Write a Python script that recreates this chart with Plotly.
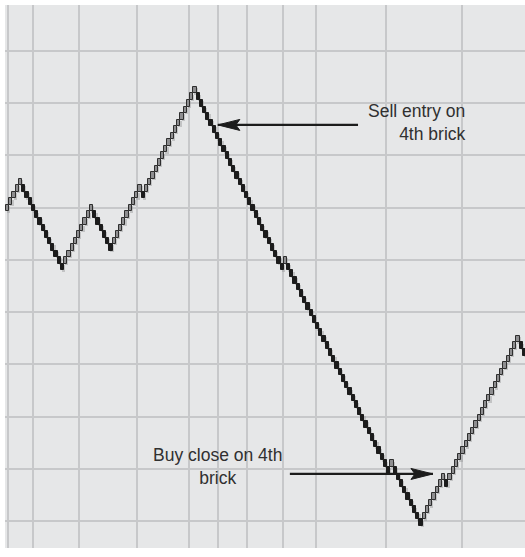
import plotly.graph_objects as go

# Renko bricks: the price level (in brick units) of each successive brick
brick_levels = [
    48, 49, 50, 51, 52,
    51, 50, 49, 48, 47, 46, 45, 44, 43, 42, 41, 40, 39,
    40, 41, 42, 43, 44, 45, 46, 47, 48,
    47, 46, 45, 44, 43, 42,
    43, 44, 45, 46, 47, 48, 49, 50, 51,
    50,
    51, 52, 53, 54, 55, 56, 57, 58, 59, 60, 61, 62, 63, 64, 65, 66,
    65, 64, 63, 62, 61, 60, 59, 58, 57, 56, 55, 54, 53, 52, 51, 50,
    49, 48, 47, 46, 45, 44, 43, 42, 41, 40, 39,
    40,
    39, 38, 37, 36, 35, 34, 33, 32, 31, 30, 29, 28, 27, 26, 25, 24,
    23, 22, 21, 20, 19, 18, 17, 16, 15, 14, 13, 12, 11, 10, 9, 8,
    9,
    8, 7, 6, 5, 4, 3, 2, 1, 0,
    1, 2, 3, 4, 5, 6, 7,
    6,
    7, 8, 9, 10, 11, 12, 13, 14, 15, 16, 17, 18, 19, 20, 21, 22,
    23, 24, 25, 26, 27, 28,
    27, 26,
]

# brick positions where the time grid (period boundaries) falls
period_breaks = [0.12, 7.96, 22.1, 40.0, 56.25, 65.2, 74.2, 85.4, 95.5, 117.2, 140.6]

# price grid: first line and spacing, in brick units
price_grid_start = 0.76
price_grid_step = 7.97

sell_label = "Sell entry on<br>4th brick"
buy_label = "Buy close on 4th<br>brick"

cols = list(range(len(brick_levels)))
is_up = [True] + [b > a for a, b in zip(brick_levels, brick_levels[1:])]

up_x = [c for c, u in zip(cols, is_up) if u]
up_base = [lv for lv, u in zip(brick_levels, is_up) if u]
dn_x = [c for c, u in zip(cols, is_up) if not u]
dn_base = [lv for lv, u in zip(brick_levels, is_up) if not u]

fig = go.Figure()

# soft shadow under every brick
fig.add_trace(go.Bar(
    x=[c + 0.35 for c in cols], y=[1] * len(cols),
    base=[lv - 0.18 for lv in brick_levels], width=1.0,
    marker=dict(color="rgba(150,150,152,0.45)", line=dict(width=0)),
    hoverinfo="skip", showlegend=False,
))
fig.add_trace(go.Bar(
    x=up_x, y=[1] * len(up_x), base=up_base, width=1.0,
    marker=dict(color="#8e8e90", line=dict(color="#2e2e2e", width=1)),
    showlegend=False,
))
fig.add_trace(go.Bar(
    x=dn_x, y=[1] * len(dn_x), base=dn_base, width=1.0,
    marker=dict(color="#1c1c1c", line=dict(color="#1c1c1c", width=1)),
    showlegend=False,
))

text_font = dict(family="Liberation Sans, Arial, sans-serif", size=17.5, color="#303030")

# arrows: shaft as a line, head as a pixel-sized barbed path anchored at the tip
def arrow(x_tip, x_tail, y, pointing_left):
    fig.add_shape(type="line", xref="x", yref="y", x0=x_tail, x1=x_tip, y0=y, y1=y,
                  line=dict(color="#1c1c1c", width=2.2))
    s = 1 if pointing_left else -1
    head = (f"M0,0 L{s*22},5.5 L{s*18},0 L{s*22},-5.5 Z")
    fig.add_shape(type="path", xref="x", yref="y", xsizemode="pixel", ysizemode="pixel",
                  xanchor=x_tip, yanchor=y, path=head,
                  fillcolor="#1c1c1c", line=dict(color="#1c1c1c", width=1))

arrow(65.1, 108.5, 61.2, True)
arrow(131.7, 87.4, 7.94, False)

fig.add_annotation(x=142.6, y=61.6, xref="x", yref="y", text=sell_label,
                   showarrow=False, xanchor="right", yanchor="middle", align="right",
                   font=text_font)
fig.add_annotation(x=65.1, y=9.1, xref="x", yref="y", text=buy_label,
                   showarrow=False, xanchor="center", yanchor="middle", align="center",
                   font=text_font)

grid_color = "#c7c8ca"
fig.update_xaxes(range=[-0.8, 160.2], tickmode="array", tickvals=period_breaks,
                 showticklabels=False, ticks="", showgrid=True, gridcolor=grid_color,
                 gridwidth=1.5, zeroline=False, showline=False, fixedrange=True)
fig.update_yaxes(range=[-3.36, 79.5], tickmode="linear", tick0=price_grid_start,
                 dtick=price_grid_step, showticklabels=False, ticks="", showgrid=True,
                 gridcolor=grid_color, gridwidth=1.5, zeroline=False, showline=False,
                 fixedrange=True)

fig.update_layout(
    width=525, height=557,
    margin=dict(l=5, r=0, t=5, b=9),
    barmode="overlay", bargap=0,
    plot_bgcolor="#e6e7e8", paper_bgcolor="#ffffff",
    showlegend=False,
)

fig.write_html("out.html", config={"displayModeBar": False})
